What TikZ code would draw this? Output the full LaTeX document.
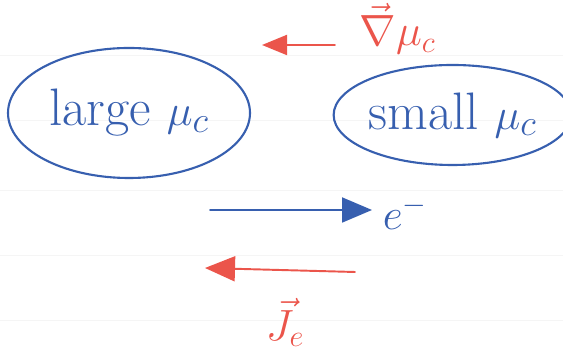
\documentclass[tikz,border=0pt]{standalone}
\usetikzlibrary{arrows.meta,shapes.geometric}
\definecolor{penblue}{RGB}{55,95,175}
\definecolor{penred}{RGB}{235,85,75}
\tikzset{
  blob/.style={draw=penblue, line width=1.2pt, ellipse, text=penblue, inner sep=0pt},
  pen/.style={line width=1.1pt, line cap=round},
  big/.style={font=\fontsize{30}{32}\selectfont},
  mid/.style={font=\fontsize{24}{26}\selectfont}
}
\begin{document}
\begin{tikzpicture}
    \useasboundingbox (0,0) rectangle (11.26,7.2);
    % notebook rules
    \foreach \y in {6.1,4.8,3.4,2.1,0.8}
        \draw [black!4, very thin] (0,\y) -- (11.26,\y);
    \node [blob, big, minimum width=4.84cm, minimum height=2.6cm] (large) at (2.58,4.94) {large $\mu_c$};
    \node [blob, big, minimum width=4.1cm, minimum height=2.0cm] (small) at (9.05,4.9) {small $\mu_c$};
    % gradient
    \coordinate (g1) at (6.7,6.3);
    \coordinate (g2) at (5.24,6.3);
    \draw [pen, penred, -{Triangle[length=0.5cm,width=0.4cm]}] (g1) -- (g2);
    \node [penred, mid] (grad) at (7.95,6.62) {$\vec{\nabla}\mu_c$};
    % electrons
    \coordinate (e1) at (4.2,3.0);
    \coordinate (e2) at (7.44,3.0);
    \draw [pen, penblue, -{Triangle[length=0.6cm,width=0.5cm]}] (e1) -- (e2);
    \node [penblue, mid] (elec) at (8.1,2.95) {$e^{-}$};
    % current
    \coordinate (j1) at (7.1,1.76);
    \coordinate (j2) at (4.1,1.84);
    \draw [pen, penred, -{Triangle[length=0.6cm,width=0.5cm]}] (j1) -- (j2);
    \node [penred, mid] (curr) at (5.7,0.75) {$\vec{J}_e$};
\end{tikzpicture}
\end{document}
